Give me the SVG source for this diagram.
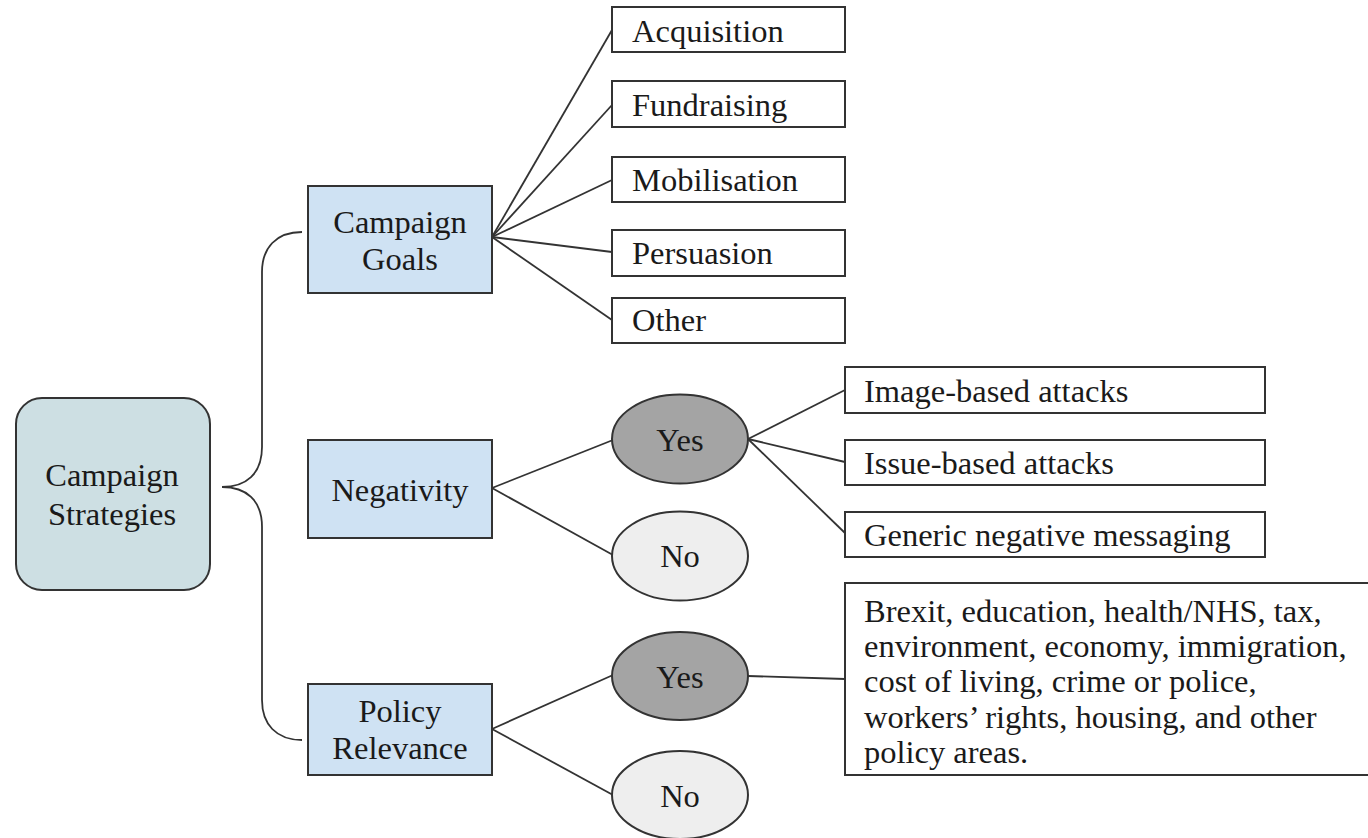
<svg xmlns="http://www.w3.org/2000/svg" width="1368" height="838" viewBox="0 0 1368 838">
<style>
  text { font-family: "Liberation Serif", "Times New Roman", serif; font-size: 32.5px; fill: #1a1a1a; }
  .c { text-anchor: middle; }
  .root { fill: #cddfe3; stroke: #333; stroke-width: 2; }
  .cat { fill: #cfe2f3; stroke: #333; stroke-width: 2; }
  .leaf { fill: #ffffff; stroke: #333; stroke-width: 2; }
  .yes { fill: #a4a4a4; stroke: #333; stroke-width: 2; }
  .no { fill: #eeeeee; stroke: #333; stroke-width: 2; }
  .edge { fill: none; stroke: #333; stroke-width: 1.8; }
</style>
<rect width="1368" height="838" fill="#ffffff"/>

<g id="connectors">
  <path class="edge" d="M302,232 C276,232 262,248 262,272 L262,447 C262,474 246,487 222,487 C246,487 262,500 262,527 L262,700 C262,724 276,740 302,740"/>
  <line class="edge" x1="492" y1="237" x2="612" y2="30"/>
  <line class="edge" x1="492" y1="237" x2="612" y2="105"/>
  <line class="edge" x1="492" y1="237" x2="612" y2="180"/>
  <line class="edge" x1="492" y1="237" x2="612" y2="252"/>
  <line class="edge" x1="492" y1="237" x2="612" y2="320"/>
  <line class="edge" x1="492" y1="488" x2="613" y2="440"/>
  <line class="edge" x1="492" y1="488" x2="613" y2="555"/>
  <line class="edge" x1="748" y1="439" x2="845" y2="390"/>
  <line class="edge" x1="748" y1="439" x2="845" y2="462"/>
  <line class="edge" x1="748" y1="439" x2="845" y2="533"/>
  <line class="edge" x1="492" y1="729" x2="613" y2="675"/>
  <line class="edge" x1="492" y1="729" x2="613" y2="795"/>
  <line class="edge" x1="748" y1="676" x2="845" y2="679"/>
</g>

<g id="campaign-strategies">
  <rect class="root" x="16" y="398" width="194" height="192" rx="26"/>
  <text class="c" x="112" y="486">Campaign</text>
  <text class="c" x="112" y="525">Strategies</text>
</g>

<g id="campaign-goals">
  <rect class="cat" x="308" y="186" width="184" height="107"/>
  <text class="c" x="400" y="233">Campaign</text>
  <text class="c" x="400" y="270">Goals</text>
</g>

<g id="negativity">
  <rect class="cat" x="308" y="440" width="184" height="98"/>
  <text class="c" x="400" y="501">Negativity</text>
</g>

<g id="policy-relevance">
  <rect class="cat" x="308" y="684" width="184" height="91"/>
  <text class="c" x="400" y="722">Policy</text>
  <text class="c" x="400" y="759">Relevance</text>
</g>

<g id="acquisition">
  <rect class="leaf" x="612" y="7" width="233" height="45"/>
  <text x="632" y="42">Acquisition</text>
</g>
<g id="fundraising">
  <rect class="leaf" x="612" y="81" width="233" height="46"/>
  <text x="632" y="116">Fundraising</text>
</g>
<g id="mobilisation">
  <rect class="leaf" x="612" y="157" width="233" height="45"/>
  <text x="632" y="191">Mobilisation</text>
</g>
<g id="persuasion">
  <rect class="leaf" x="612" y="230" width="233" height="46"/>
  <text x="632" y="264">Persuasion</text>
</g>
<g id="other">
  <rect class="leaf" x="612" y="298" width="233" height="45"/>
  <text x="632" y="331">Other</text>
</g>

<g id="negativity-yes">
  <ellipse class="yes" cx="680" cy="439" rx="68" ry="44.5"/>
  <text class="c" x="680" y="451">Yes</text>
</g>
<g id="negativity-no">
  <ellipse class="no" cx="680" cy="556" rx="68" ry="44.5"/>
  <text class="c" x="680" y="567">No</text>
</g>

<g id="image-based">
  <rect class="leaf" x="845" y="367" width="420" height="46"/>
  <text x="864" y="402">Image-based attacks</text>
</g>
<g id="issue-based">
  <rect class="leaf" x="845" y="440" width="420" height="45"/>
  <text x="864" y="474">Issue-based attacks</text>
</g>
<g id="generic-negative">
  <rect class="leaf" x="845" y="512" width="420" height="45"/>
  <text x="864" y="546">Generic negative messaging</text>
</g>

<g id="policy-yes">
  <ellipse class="yes" cx="680" cy="676" rx="68" ry="44"/>
  <text class="c" x="680" y="688">Yes</text>
</g>
<g id="policy-no">
  <ellipse class="no" cx="680" cy="795" rx="68" ry="44"/>
  <text class="c" x="680" y="807">No</text>
</g>

<g id="policy-areas">
  <rect class="leaf" x="845" y="583" width="530" height="192"/>
  <text x="864" y="622">Brexit, education, health/NHS, tax,</text>
  <text x="864" y="657">environment, economy, immigration,</text>
  <text x="864" y="692">cost of living, crime or police,</text>
  <text x="864" y="728">workers’ rights, housing, and other</text>
  <text x="864" y="763">policy areas.</text>
</g>
</svg>
